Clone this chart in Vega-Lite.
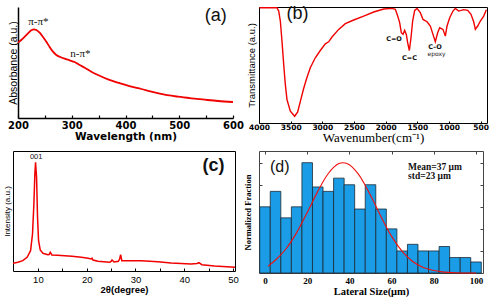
{
  "$schema": "https://vega.github.io/schema/vega-lite/v6.json",
  "background": "white",
  "padding": {"left": 3, "top": 4, "right": 0, "bottom": 0},
  "columns": 2,
  "spacing": {"row": 28, "column": 24},
  "align": {"row": "each", "column": "none"},
  "bounds": "flush",
  "config": {
    "view": {"stroke": null},
    "axis": {"grid": false, "labelColor": "#000", "titleColor": "#000", "domainColor": "#000", "tickColor": "#000", "labelFlush": false, "labelOverlap": false},
    "font": "Liberation Sans"
  },
  "concat": [
    {
      "width": 218,
      "height": 111,
      "resolve": {"axis": {"x": "independent", "y": "independent"}},
      "layer": [
        {
          "data": {"values": [
            {"wavelength": 200, "absorbance": 75.3}, {"wavelength": 209.3, "absorbance": 79.7}, {"wavelength": 218.6, "absorbance": 84.7},
            {"wavelength": 224.8, "absorbance": 87.7}, {"wavelength": 229.8, "absorbance": 88.7}, {"wavelength": 234.1, "absorbance": 88},
            {"wavelength": 240.3, "absorbance": 85.3}, {"wavelength": 246.5, "absorbance": 81}, {"wavelength": 252.7, "absorbance": 76.3},
            {"wavelength": 258.9, "absorbance": 71}, {"wavelength": 265.1, "absorbance": 66.3}, {"wavelength": 271.3, "absorbance": 63},
            {"wavelength": 277.5, "absorbance": 61.3}, {"wavelength": 286.8, "absorbance": 59.3}, {"wavelength": 296.1, "absorbance": 57.7},
            {"wavelength": 305.4, "absorbance": 56}, {"wavelength": 314.7, "absorbance": 53}, {"wavelength": 324, "absorbance": 50.3},
            {"wavelength": 336.4, "absorbance": 46.3}, {"wavelength": 348.8, "absorbance": 43}, {"wavelength": 367.4, "absorbance": 38.7},
            {"wavelength": 386, "absorbance": 35.3}, {"wavelength": 410.9, "absorbance": 31.3}, {"wavelength": 429.5, "absorbance": 29},
            {"wavelength": 448.1, "absorbance": 26.3}, {"wavelength": 472.9, "absorbance": 23.3}, {"wavelength": 497.7, "absorbance": 21.3},
            {"wavelength": 522.5, "absorbance": 19.7}, {"wavelength": 547.3, "absorbance": 18.3}, {"wavelength": 572.1, "absorbance": 17},
            {"wavelength": 600, "absorbance": 16}
          ]},
          "mark": {"type": "line", "color": "#f00000", "strokeWidth": 1.8, "interpolate": "monotone"},
          "encoding": {
            "x": {"field": "wavelength", "type": "quantitative",
              "scale": {"domain": [200, 600], "range": [5, 220], "nice": false, "zero": false},
              "axis": {"values": [200, 250, 300, 350, 400, 450, 500, 550, 600], "labelExpr": "datum.value % 100 === 0 ? datum.label : ''",
                "tickSize": -3, "tickWidth": 1.2, "domainWidth": 1.5, "labelPadding": 5,
                "labelFont": "DejaVu Sans", "labelFontWeight": "bold", "labelFontSize": 10,
                "title": "Wavelength (nm)", "titleFont": "DejaVu Sans", "titleFontWeight": "bold", "titleFontSize": 10.5, "titlePadding": 1.5}},
            "y": {"field": "absorbance", "type": "quantitative",
              "scale": {"domain": [0, 111], "nice": false, "zero": false},
              "axis": {"ticks": false, "labels": false, "offset": -5, "domainWidth": 1.5,
                "title": "Absorbance (a.u.)", "titleFont": "Liberation Sans", "titleFontWeight": "normal", "titleFontSize": 10.5, "titlePadding": 0}}
          }
        },
        {
          "data": {"values": [
            {"wavelength": 238, "absorbance": 96.3, "label": "π-π*"},
            {"wavelength": 316, "absorbance": 64.3, "label": "n-π*"}
          ]},
          "mark": {"type": "text", "font": "Liberation Serif", "fontSize": 11, "baseline": "middle", "color": "#111"},
          "encoding": {
            "x": {"field": "wavelength", "type": "quantitative", "axis": null},
            "y": {"field": "absorbance", "type": "quantitative", "axis": null},
            "text": {"field": "label"}
          }
        },
        {
          "data": {"values": [{"wavelength": 568, "absorbance": 102, "label": "(a)"}]},
          "mark": {"type": "text", "font": "Liberation Sans", "fontSize": 18, "baseline": "middle", "color": "#111"},
          "encoding": {
            "x": {"field": "wavelength", "type": "quantitative", "axis": null},
            "y": {"field": "absorbance", "type": "quantitative", "axis": null},
            "text": {"field": "label"}
          }
        }
      ]
    },
    {
      "width": 228,
      "height": 116,
      "view": {"stroke": "#000", "strokeWidth": 1},
      "resolve": {"axis": {"x": "independent", "y": "independent"}},
      "layer": [
        {
          "data": {"values": [
            {"wavenumber": 3995, "transmittance": 99.4}, {"wavenumber": 3716, "transmittance": 99.4}, {"wavenumber": 3689, "transmittance": 96.5},
            {"wavenumber": 3663, "transmittance": 87.9}, {"wavenumber": 3637, "transmittance": 70.6}, {"wavenumber": 3610, "transmittance": 50.4},
            {"wavenumber": 3584, "transmittance": 33.1}, {"wavenumber": 3558, "transmittance": 20.2}, {"wavenumber": 3505, "transmittance": 10.1},
            {"wavenumber": 3437, "transmittance": 5.8}, {"wavenumber": 3389, "transmittance": 9.5}, {"wavenumber": 3347, "transmittance": 18.7},
            {"wavenumber": 3295, "transmittance": 29.7}, {"wavenumber": 3242, "transmittance": 39.5}, {"wavenumber": 3190, "transmittance": 47.6},
            {"wavenumber": 3111, "transmittance": 56.2}, {"wavenumber": 3032, "transmittance": 62.5}, {"wavenumber": 2953, "transmittance": 68.3},
            {"wavenumber": 2900, "transmittance": 70.0}, {"wavenumber": 2847, "transmittance": 74.1}, {"wavenumber": 2742, "transmittance": 80.7},
            {"wavenumber": 2637, "transmittance": 85.6}, {"wavenumber": 2505, "transmittance": 88.8}, {"wavenumber": 2347, "transmittance": 92.2},
            {"wavenumber": 2189, "transmittance": 95.7}, {"wavenumber": 2031, "transmittance": 98.3}, {"wavenumber": 1900, "transmittance": 98.8},
            {"wavenumber": 1847, "transmittance": 98.0}, {"wavenumber": 1810, "transmittance": 92.2}, {"wavenumber": 1779, "transmittance": 86.5},
            {"wavenumber": 1753, "transmittance": 77.8}, {"wavenumber": 1726, "transmittance": 76.4}, {"wavenumber": 1700, "transmittance": 79.8},
            {"wavenumber": 1674, "transmittance": 76.4}, {"wavenumber": 1653, "transmittance": 69.2}, {"wavenumber": 1626, "transmittance": 62.5},
            {"wavenumber": 1600, "transmittance": 73.5}, {"wavenumber": 1574, "transmittance": 87.9}, {"wavenumber": 1542, "transmittance": 97.1},
            {"wavenumber": 1505, "transmittance": 98.8}, {"wavenumber": 1453, "transmittance": 95.1}, {"wavenumber": 1410, "transmittance": 89.3},
            {"wavenumber": 1347, "transmittance": 87.3}, {"wavenumber": 1295, "transmittance": 83.6}, {"wavenumber": 1253, "transmittance": 76.4},
            {"wavenumber": 1216, "transmittance": 70.0}, {"wavenumber": 1179, "transmittance": 77.8}, {"wavenumber": 1147, "transmittance": 82.1},
            {"wavenumber": 1095, "transmittance": 80.7}, {"wavenumber": 1058, "transmittance": 74.9}, {"wavenumber": 1031, "transmittance": 83.6},
            {"wavenumber": 989, "transmittance": 90.8}, {"wavenumber": 937, "transmittance": 96.5}, {"wavenumber": 900, "transmittance": 98.8},
            {"wavenumber": 847, "transmittance": 96.5}, {"wavenumber": 768, "transmittance": 97.7}, {"wavenumber": 705, "transmittance": 97.1},
            {"wavenumber": 653, "transmittance": 93.7}, {"wavenumber": 610, "transmittance": 87.3}, {"wavenumber": 584, "transmittance": 80.7},
            {"wavenumber": 547, "transmittance": 83.6}, {"wavenumber": 505, "transmittance": 87.9}, {"wavenumber": 452, "transmittance": 92.2},
            {"wavenumber": 410, "transmittance": 97.7}
          ]},
          "mark": {"type": "line", "color": "#f00000", "strokeWidth": 1.4},
          "encoding": {
            "x": {"field": "wavenumber", "type": "quantitative",
              "scale": {"domain": [400, 4000], "reverse": true, "nice": false, "zero": false},
              "axis": {"values": [4000, 3500, 3000, 2500, 2000, 1500, 1000, 500], "format": "d", "domain": false,
                "tickSize": -2, "labelPadding": 2,
                "labelFont": "DejaVu Sans", "labelFontWeight": "bold", "labelFontSize": 7.5,
                "title": "Wavenumber(cm⁻¹)", "titleFont": "Liberation Serif", "titleFontWeight": "normal", "titleFontSize": 13, "titlePadding": 1}},
            "y": {"field": "transmittance", "type": "quantitative",
              "scale": {"domain": [0, 100], "nice": false, "zero": false},
              "axis": {"ticks": false, "labels": false, "domain": false,
                "title": "Transmittance (a.u.)", "titleFont": "Liberation Sans", "titleFontWeight": "normal", "titleFontSize": 9.5, "titlePadding": 3}}
          }
        },
        {
          "data": {"values": [
            {"wavenumber": 1868, "transmittance": 72.1, "label": "C=O"},
            {"wavenumber": 1624, "transmittance": 55.9, "label": "C=C"},
            {"wavenumber": 1221, "transmittance": 65.4, "label": "C–O"}
          ]},
          "mark": {"type": "text", "font": "DejaVu Sans", "fontWeight": "bold", "fontSize": 6.5, "baseline": "middle", "color": "#111"},
          "encoding": {
            "x": {"field": "wavenumber", "type": "quantitative", "axis": null},
            "y": {"field": "transmittance", "type": "quantitative", "axis": null},
            "text": {"field": "label"}
          }
        },
        {
          "data": {"values": [{"wavenumber": 1197, "transmittance": 59.6, "label": "epoxy"}]},
          "mark": {"type": "text", "font": "DejaVu Sans", "fontSize": 6, "baseline": "middle", "color": "#222"},
          "encoding": {
            "x": {"field": "wavenumber", "type": "quantitative", "axis": null},
            "y": {"field": "transmittance", "type": "quantitative", "axis": null},
            "text": {"field": "label"}
          }
        },
        {
          "data": {"values": [{"wavenumber": 3392, "transmittance": 93.7, "label": "(b)"}]},
          "mark": {"type": "text", "font": "Liberation Sans", "fontSize": 18, "baseline": "middle", "color": "#111"},
          "encoding": {
            "x": {"field": "wavenumber", "type": "quantitative", "axis": null},
            "y": {"field": "transmittance", "type": "quantitative", "axis": null},
            "text": {"field": "label"}
          }
        }
      ]
    },
    {
      "width": 222,
      "height": 120,
      "view": {"stroke": "#000", "strokeWidth": 1},
      "resolve": {"axis": {"x": "independent", "y": "independent"}},
      "layer": [
        {
          "data": {"values": [
            {"angle": 4.9, "intensity": 7.7}, {"angle": 5.9, "intensity": 8.7}, {"angle": 6.9, "intensity": 10.3}, {"angle": 7.8, "intensity": 13.7},
            {"angle": 8.5, "intensity": 20.3}, {"angle": 8.9, "intensity": 37}, {"angle": 9.18, "intensity": 67}, {"angle": 9.38, "intensity": 97},
            {"angle": 9.52, "intensity": 108.7}, {"angle": 9.73, "intensity": 93.7}, {"angle": 9.93, "intensity": 53.7}, {"angle": 10.14, "intensity": 30.3},
            {"angle": 10.48, "intensity": 21}, {"angle": 11.03, "intensity": 17.7}, {"angle": 12.05, "intensity": 16.3}, {"angle": 12.3, "intensity": 16.5},
            {"angle": 12.53, "intensity": 18.7}, {"angle": 12.87, "intensity": 16}, {"angle": 14, "intensity": 15.8}, {"angle": 15.47, "intensity": 15.3},
            {"angle": 17, "intensity": 14.8}, {"angle": 18.9, "intensity": 13.7}, {"angle": 20.3, "intensity": 12.8}, {"angle": 20.9, "intensity": 12},
            {"angle": 21.1, "intensity": 12.8}, {"angle": 21.3, "intensity": 11}, {"angle": 22.3, "intensity": 9.7}, {"angle": 24.7, "intensity": 8.7},
            {"angle": 25.0, "intensity": 9.5}, {"angle": 25.2, "intensity": 11}, {"angle": 25.6, "intensity": 9}, {"angle": 26.5, "intensity": 9.7},
            {"angle": 26.75, "intensity": 12}, {"angle": 26.96, "intensity": 16.3}, {"angle": 27.2, "intensity": 10.3}, {"angle": 28.46, "intensity": 10.3},
            {"angle": 31.2, "intensity": 10.3}, {"angle": 34.6, "intensity": 9.3}, {"angle": 37.3, "intensity": 8}, {"angle": 41.4, "intensity": 7},
            {"angle": 42.6, "intensity": 7.5}, {"angle": 43, "intensity": 8.3}, {"angle": 43.6, "intensity": 6.3}, {"angle": 46.2, "intensity": 5},
            {"angle": 50.4, "intensity": 3.7}
          ]},
          "mark": {"type": "line", "color": "#f00000", "strokeWidth": 1.5},
          "encoding": {
            "x": {"field": "angle", "type": "quantitative",
              "scale": {"domain": [4.9, 50.4], "nice": false, "zero": false},
              "axis": {"values": [10, 15, 20, 25, 30, 35, 40, 45, 50], "labelExpr": "datum.value % 10 === 0 ? datum.label : ''", "domain": false,
                "tickSize": -3, "labelPadding": 6,
                "labelFont": "Liberation Sans", "labelFontSize": 9.5,
                "title": "2θ(degree)", "titleFont": "Liberation Sans", "titleFontWeight": "bold", "titleFontSize": 9.5, "titlePadding": 1}},
            "y": {"field": "intensity", "type": "quantitative",
              "scale": {"domain": [0, 120], "nice": false, "zero": false},
              "axis": {"ticks": false, "labels": false, "domain": false,
                "title": "Intensity (a.u.)", "titleFont": "Liberation Sans", "titleFontWeight": "normal", "titleFontSize": 8, "titlePadding": 1.5}}
          }
        },
        {
          "data": {"values": [{"angle": 9.65, "intensity": 113.7, "label": "001"}]},
          "mark": {"type": "text", "font": "Liberation Sans", "fontSize": 7.5, "baseline": "middle", "color": "#111"},
          "encoding": {
            "x": {"field": "angle", "type": "quantitative", "axis": null},
            "y": {"field": "intensity", "type": "quantitative", "axis": null},
            "text": {"field": "label"}
          }
        },
        {
          "data": {"values": [{"angle": 46.0, "intensity": 105.3, "label": "(c)"}]},
          "mark": {"type": "text", "font": "Liberation Sans", "fontSize": 18, "fontWeight": "bold", "baseline": "middle", "color": "#111"},
          "encoding": {
            "x": {"field": "angle", "type": "quantitative", "axis": null},
            "y": {"field": "intensity", "type": "quantitative", "axis": null},
            "text": {"field": "label"}
          }
        }
      ]
    },
    {
      "width": 224,
      "height": 122,
      "view": {"stroke": "#444", "strokeWidth": 1},
      "resolve": {"axis": {"x": "independent", "y": "independent"}},
      "layer": [
        {
          "data": {"values": [
            {"lo": -2.5, "hi": 2.5, "fraction": 3.0}, {"lo": 2.5, "hi": 7.5, "fraction": 3.7}, {"lo": 7.5, "hi": 12.5, "fraction": 2.5},
            {"lo": 12.5, "hi": 17.5, "fraction": 3.0}, {"lo": 17.5, "hi": 22.5, "fraction": 5.0}, {"lo": 22.5, "hi": 27.5, "fraction": 3.9},
            {"lo": 27.5, "hi": 32.5, "fraction": 3.7}, {"lo": 32.5, "hi": 37.5, "fraction": 4.3}, {"lo": 37.5, "hi": 42.5, "fraction": 4.0},
            {"lo": 42.5, "hi": 47.5, "fraction": 2.9}, {"lo": 47.5, "hi": 52.5, "fraction": 4.0}, {"lo": 52.5, "hi": 57.5, "fraction": 2.9},
            {"lo": 57.5, "hi": 62.5, "fraction": 2.0}, {"lo": 62.5, "hi": 67.5, "fraction": 1.0}, {"lo": 67.5, "hi": 72.5, "fraction": 1.3},
            {"lo": 72.5, "hi": 77.5, "fraction": 1.0}, {"lo": 77.5, "hi": 82.5, "fraction": 1.0}, {"lo": 82.5, "hi": 87.5, "fraction": 1.2},
            {"lo": 87.5, "hi": 92.5, "fraction": 0.7}, {"lo": 92.5, "hi": 97.5, "fraction": 0.7}, {"lo": 97.5, "hi": 102.5, "fraction": 0.5}
          ]},
          "mark": {"type": "bar", "fill": "#1a9de6", "stroke": "#1b2a35", "strokeWidth": 0.8},
          "encoding": {
            "x": {"field": "lo", "type": "quantitative",
              "scale": {"domain": [-2.84, 103.3], "nice": false, "zero": false},
              "axis": {"values": [0, 20, 40, 60, 80, 100], "domain": false, "tickSize": -3, "tickColor": "#444", "labelPadding": 6,
                "labelFont": "Liberation Serif", "labelFontWeight": "bold", "labelFontSize": 9,
                "title": "Lateral Size(μm)", "titleFont": "Liberation Serif", "titleFontWeight": "bold", "titleFontSize": 10.5, "titlePadding": 1}},
            "x2": {"field": "hi"},
            "y": {"field": "fraction", "type": "quantitative",
              "scale": {"domain": [0, 5.53], "nice": false, "zero": false},
              "axis": {"values": [1, 2, 3, 4, 5], "labels": false, "domain": false, "tickSize": -3, "tickColor": "#444",
                "title": "Normalized Fraction", "titleFont": "Liberation Serif", "titleFontWeight": "bold", "titleFontSize": 8.5, "titlePadding": 6}},
            "y2": {"datum": 0}
          }
        },
        {
          "data": {"values": [
            {"size": 1.4, "gauss": 0.3}, {"size": 5, "gauss": 0.59}, {"size": 10, "gauss": 1.10}, {"size": 15, "gauss": 1.83},
            {"size": 20, "gauss": 2.74}, {"size": 25, "gauss": 3.70}, {"size": 27.5, "gauss": 4.14}, {"size": 30, "gauss": 4.51},
            {"size": 32.5, "gauss": 4.79}, {"size": 35, "gauss": 4.96}, {"size": 37, "gauss": 5.0}, {"size": 40, "gauss": 4.91},
            {"size": 42.5, "gauss": 4.69}, {"size": 45, "gauss": 4.38}, {"size": 47.5, "gauss": 3.97}, {"size": 50, "gauss": 3.52},
            {"size": 55, "gauss": 2.55}, {"size": 60, "gauss": 1.66}, {"size": 65, "gauss": 0.98}, {"size": 70, "gauss": 0.52},
            {"size": 75, "gauss": 0.25}, {"size": 80, "gauss": 0.11}, {"size": 85, "gauss": 0.04}, {"size": 90, "gauss": 0.01},
            {"size": 95, "gauss": 0.0}, {"size": 100, "gauss": 0.0}
          ]},
          "mark": {"type": "line", "color": "#f01010", "strokeWidth": 1.1, "interpolate": "monotone"},
          "encoding": {
            "x": {"field": "size", "type": "quantitative",
              "axis": {"orient": "top", "values": [0, 20, 40, 60, 80, 100], "labels": false, "domain": false, "tickSize": -3, "tickColor": "#444", "title": null}},
            "y": {"field": "gauss", "type": "quantitative",
              "axis": {"orient": "right", "values": [1, 2, 3, 4, 5], "labels": false, "domain": false, "tickSize": -3, "tickColor": "#444", "title": null}}
          }
        },
        {
          "data": {"values": [{"size": 7.0, "gauss": 4.79, "label": "(d)"}]},
          "mark": {"type": "text", "font": "Liberation Sans", "fontSize": 16, "baseline": "middle", "color": "#111"},
          "encoding": {
            "x": {"field": "size", "type": "quantitative", "axis": null},
            "y": {"field": "gauss", "type": "quantitative", "axis": null},
            "text": {"field": "label"}
          }
        },
        {
          "data": {"values": [
            {"size": 67.8, "gauss": 4.82, "label": "Mean=37 μm"},
            {"size": 67.8, "gauss": 4.38, "label": "std=23 μm"}
          ]},
          "mark": {"type": "text", "font": "Liberation Serif", "fontWeight": "bold", "fontSize": 9.5, "align": "left", "baseline": "middle", "color": "#111"},
          "encoding": {
            "x": {"field": "size", "type": "quantitative", "axis": null},
            "y": {"field": "gauss", "type": "quantitative", "axis": null},
            "text": {"field": "label"}
          }
        }
      ]
    }
  ]
}
